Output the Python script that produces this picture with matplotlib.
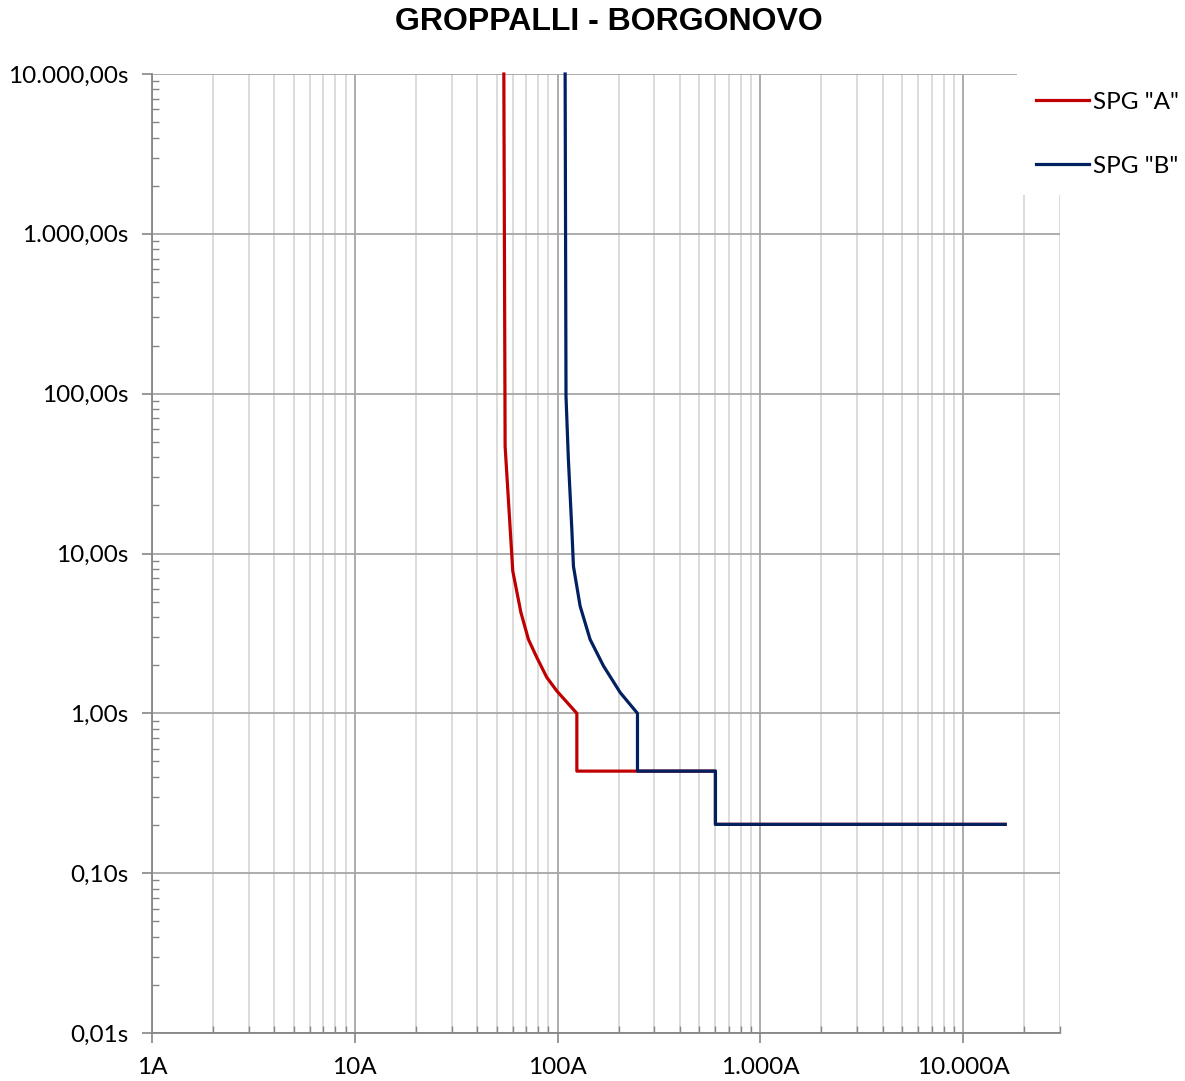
import matplotlib
matplotlib.use("Agg")
import matplotlib.pyplot as plt
from matplotlib.ticker import FixedLocator, NullFormatter
import numpy as np

# curve points: current (A), time (s)
spg_a_current = [54.3, 55.1, 60.1, 65.9, 71.8, 78.9, 88.4, 99.1, 124.4, 124.4, 600, 600, 16100]
spg_a_time = [10000, 46.8, 7.77, 4.28, 2.90, 2.24, 1.68, 1.38, 1.0, 0.435, 0.435, 0.202, 0.202]

spg_b_current = [108.9, 110.0, 113.0, 117.5, 119.7, 129.1, 144.6, 168.3, 203.4, 247.6, 247.6, 600, 600, 16100]
spg_b_time = [10000, 96.0, 38.8, 14.2, 8.32, 4.69, 2.90, 1.98, 1.35, 1.0, 0.435, 0.435, 0.202, 0.202]

x_ticks = [1, 10, 100, 1000, 10000]
x_labels = ["1A", "10A", "100A", "1.000A", "10.000A"]
y_ticks = [0.01, 0.1, 1, 10, 100, 1000, 10000]
y_labels = ["0,01s", "0,10s", "1,00s", "10,00s", "100,00s", "1.000,00s", "10.000,00s"]

W, H = 1185, 1081
fig = plt.figure(figsize=(W / 100, H / 100), dpi=100)
ax = fig.add_axes([152 / W, 1 - 1033 / H, (1060 - 152) / W, (1033 - 74) / H])

tick_font = "Lato"
tick_size = 17.5
axis_grey = "#868686"

ax.set_xscale("log")
ax.set_yscale("log")
ax.set_xlim(1, 30000)
ax.set_ylim(0.01, 10000)

# minor grid on x only
x_minor = [m * 10 ** d for d in range(0, 5) for m in range(2, 10) if m * 10 ** d <= 30000]
y_minor = [m * 10 ** d for d in range(-2, 4) for m in range(2, 10)]
ax.xaxis.set_major_locator(FixedLocator(x_ticks))
ax.xaxis.set_minor_locator(FixedLocator(x_minor))
ax.yaxis.set_major_locator(FixedLocator(y_ticks))
ax.yaxis.set_minor_locator(FixedLocator(y_minor))
ax.xaxis.set_minor_formatter(NullFormatter())
ax.yaxis.set_minor_formatter(NullFormatter())
ax.set_xticklabels(x_labels, fontfamily=tick_font, fontsize=tick_size)
ax.set_yticklabels(y_labels, fontfamily=tick_font, fontsize=tick_size)

ax.grid(True, which="major", axis="both", color="#a6a6a6", linewidth=1.3)
ax.grid(True, which="minor", axis="x", color="#d9d9d9", linewidth=1.3)
ax.set_axisbelow(True)

ax.tick_params(which="major", direction="out", length=7, width=1.2, color=axis_grey, pad=10)
ax.tick_params(which="minor", direction="in", length=5, width=1.0, color=axis_grey)
ax.tick_params(axis="x", which="major", pad=10)

for side in ["top", "right"]:
    ax.spines[side].set_visible(False)
for side in ["left", "bottom"]:
    ax.spines[side].set_color(axis_grey)
    ax.spines[side].set_linewidth(1.3)

ax.plot(spg_a_current, spg_a_time, color="#c00000", linewidth=2.3, label='SPG "A"', clip_on=False)
ax.plot(spg_b_current, spg_b_time, color="#002060", linewidth=2.3, label='SPG "B"', clip_on=False)

fig.text(609 / W, 1 - 22 / H, "GROPPALLI - BORGONOVO", ha="center", va="center",
         fontsize=23, fontweight="bold", fontfamily="Liberation Sans")

leg = fig.legend(loc="upper left", bbox_to_anchor=(1017 / W, 1 - 73 / H),
                 frameon=True, fancybox=False, facecolor="white", edgecolor="white",
                 framealpha=1, prop={"family": tick_font, "size": tick_size},
                 handlelength=2.2, handletextpad=0.15, labelspacing=1.75,
                 borderpad=0.78, borderaxespad=0)
leg.get_frame().set_linewidth(0)

fig.savefig("out.png", dpi=100, facecolor="white")
